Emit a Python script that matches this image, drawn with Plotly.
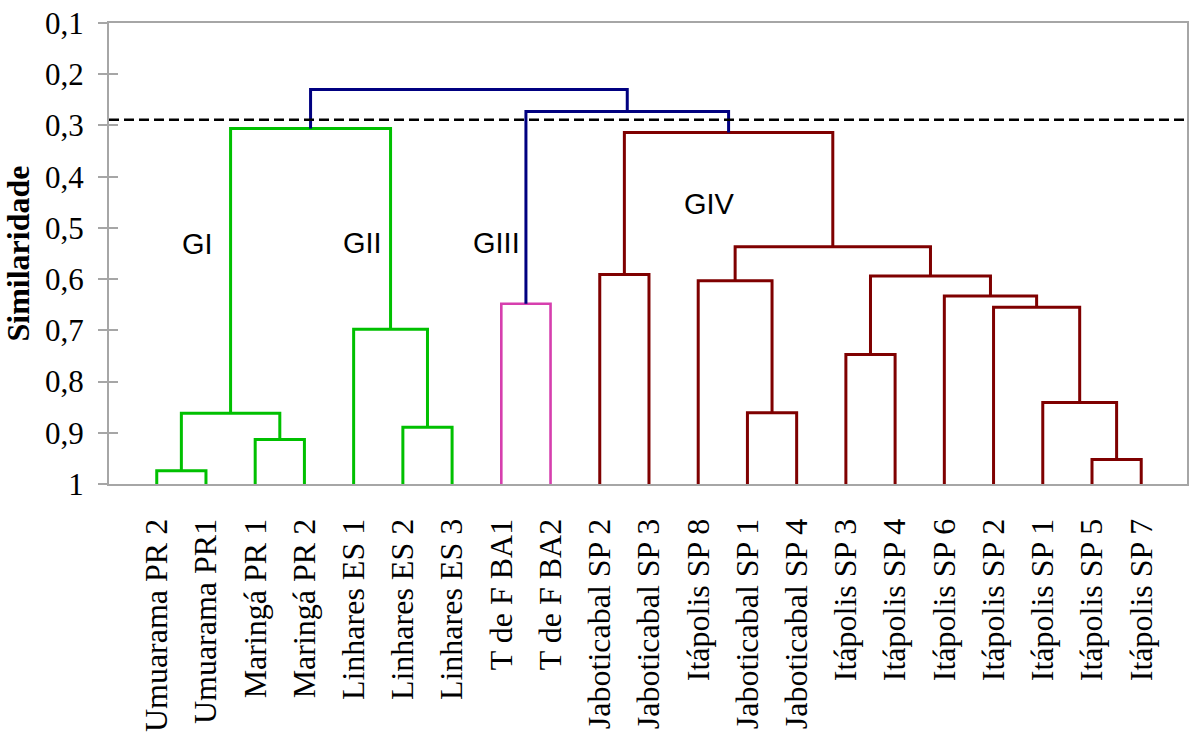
import plotly.graph_objects as go

# ---------------- data ----------------
leaves = ["Umuarama PR 2", "Umuarama PR1", "Maringá PR 1", "Maringá PR 2",
          "Linhares ES 1", "Linhares ES 2", "Linhares ES 3",
          "T de F BA1", "T de F BA2",
          "Jaboticabal SP 2", "Jaboticabal SP 3", "Itápolis SP 8",
          "Jaboticabal SP 1", "Jaboticabal SP 4", "Itápolis SP 3",
          "Itápolis SP 4", "Itápolis SP 6", "Itápolis SP 2",
          "Itápolis SP 1", "Itápolis SP 5", "Itápolis SP 7"]

# merges: node ids 0..20 are leaves, merge k gets id 21+k
merge_left = [0, 2, 21, 5, 4, 23, 7, 9, 12, 11, 14, 19, 18, 17, 16, 31, 30, 28, 27, 26]
merge_right = [1, 3, 22, 6, 24, 25, 8, 10, 13, 29, 15, 20, 32, 33, 34, 35, 36, 37, 38, 39]
merge_sim = [0.974, 0.913, 0.862, 0.889, 0.698, 0.306, 0.648, 0.591, 0.861, 0.603,
             0.747, 0.952, 0.841, 0.655, 0.633, 0.594, 0.537, 0.314, 0.273, 0.230]
merge_group = ["G", "G", "G", "G", "G", "G", "M", "R", "R", "R",
               "R", "R", "R", "R", "R", "R", "R", "R", "B", "B"]

cutoff = 0.289

y_tickvals = [0.1, 0.2, 0.3, 0.4, 0.5, 0.6, 0.7, 0.8, 0.9, 1.0]
y_ticktext = ["0,1", "0,2", "0,3", "0,4", "0,5", "0,6", "0,7", "0,8", "0,9", "1"]

group_labels = ["GI", "GII", "GIII", "GIV"]

# ---------------- styles ----------------
colors = {"G": "#00C000", "M": "#D63FAE", "R": "#7F0000", "B": "#000080"}
widths = {"G": 3, "M": 2.6, "R": 3, "B": 3}
axis_col = "#A6A6A6"
serif = "Liberation Serif, Times New Roman, serif"
sans = "Liberation Sans, Arial, sans-serif"

# ---------------- compute dendrogram geometry ----------------
n = len(leaves)
xpos = {i: i + 1 for i in range(n)}
hpos = {i: 1.0 for i in range(n)}
segs = {k: ([], []) for k in colors}
for k, (a, b, h, g) in enumerate(zip(merge_left, merge_right, merge_sim, merge_group)):
    node = n + k
    xa, xb = xpos[a], xpos[b]
    xs, ys = segs[g]
    xs += [xa, xa, xb, xb, None]
    ys += [hpos[a], h, h, hpos[b], None]
    xpos[node] = (xa + xb) / 2
    hpos[node] = h

fig = go.Figure()
for g in ["G", "M", "R", "B"]:
    xs, ys = segs[g]
    fig.add_trace(go.Scatter(x=xs, y=ys, mode="lines",
                             line=dict(color=colors[g], width=widths[g]),
                             hoverinfo="skip", showlegend=False))
# helper trace for inner ticks axis
fig.add_trace(go.Scatter(x=[None], y=[None], yaxis="y2", showlegend=False, hoverinfo="skip"))

fig.add_shape(type="line", xref="paper", x0=0, x1=1, yref="y", y0=cutoff, y1=cutoff,
              line=dict(color="black", width=2.6, dash="10px,5px"))

label_pos = [(1.82, 0.531), (5.18, 0.530), (7.91, 0.530), (12.22, 0.453)]
for txt, (ax, ay) in zip(group_labels, label_pos):
    fig.add_annotation(x=ax, y=ay, text=txt, showarrow=False,
                       font=dict(family=sans, size=29, color="black"))

fig.update_layout(
    width=1191, height=742,
    margin=dict(l=109, r=2, t=23, b=258),
    plot_bgcolor="white", paper_bgcolor="white",
    showlegend=False,
    xaxis=dict(range=[0.03, 21.93], tickvals=[xpos[i] for i in range(n)], ticktext=leaves,
               tickangle=-90, ticks="", showline=True, linecolor=axis_col, linewidth=2,
               mirror=True, showgrid=False, zeroline=False, ticklabelstandoff=20,
               tickfont=dict(family=serif, size=32, color="black")),
    yaxis=dict(range=[1.0, 0.1], tickvals=y_tickvals, ticktext=y_ticktext,
               ticks="outside", ticklen=9, tickwidth=2, tickcolor=axis_col,
               showline=True, linecolor=axis_col, linewidth=2, mirror=True,
               showgrid=False, zeroline=False, ticklabelstandoff=8,
               tickfont=dict(family=serif, size=31, color="black"),
               title=dict(text="Similaridade", standoff=6,
                          font=dict(family=serif, size=32, color="black", weight="bold"))),
    yaxis2=dict(overlaying="y", side="left", range=[1.0, 0.1], tickvals=y_tickvals,
                ticks="inside", ticklen=9, tickwidth=2, tickcolor=axis_col,
                showticklabels=False, showgrid=False, showline=False, zeroline=False),
)

fig.write_html("out.html")
